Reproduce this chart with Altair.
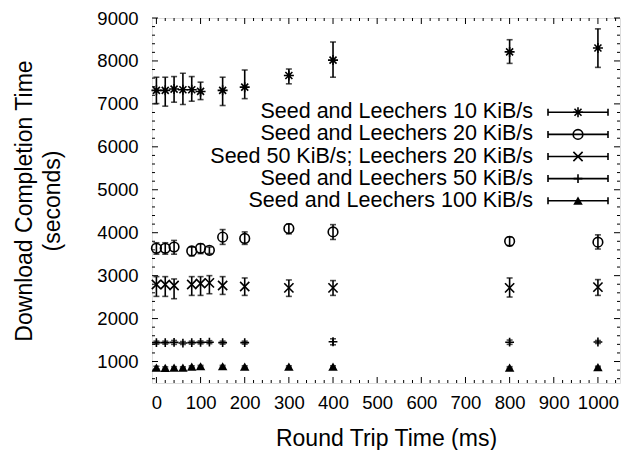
import altair as alt
import pandas as pd

# ---------------- data ----------------
series_names = [
    "Seed and Leechers 10 KiB/s",
    "Seed and Leechers 20 KiB/s",
    "Seed 50 KiB/s; Leechers 20 KiB/s",
    "Seed and Leechers 50 KiB/s",
    "Seed and Leechers 100 KiB/s",
]

x_10 = [0, 20, 40, 60, 80, 100, 150, 200, 300, 400, 800, 1000]
y_10 = [7315, 7315, 7345, 7330, 7330, 7290, 7315, 7390, 7660, 8020, 8210, 8300]
lo_10 = [7007, 6947, 7039, 6985, 7062, 7100, 6962, 7122, 7467, 7621, 7943, 7850]
hi_10 = [7621, 7621, 7636, 7713, 7636, 7506, 7621, 7789, 7812, 8441, 8494, 8747]

x_20 = [0, 20, 40, 80, 100, 120, 150, 200, 300, 400, 800, 1000]
y_20 = [3636, 3636, 3667, 3575, 3636, 3590, 3897, 3866, 4096, 4019, 3800, 3780]
lo_20 = [3500, 3500, 3500, 3460, 3513, 3513, 3728, 3728, 3973, 3843, 3700, 3620]
hi_20 = [3766, 3766, 3820, 3667, 3743, 3667, 4073, 4019, 4203, 4188, 3900, 3950]

x_5020 = [0, 20, 40, 80, 100, 120, 150, 200, 300, 400, 800, 1000]
y_5020 = [2793, 2793, 2770, 2793, 2816, 2831, 2770, 2747, 2716, 2716, 2716, 2732]
lo_5020 = [2517, 2517, 2463, 2540, 2540, 2579, 2563, 2540, 2517, 2540, 2502, 2540]
hi_5020 = [2977, 2977, 2923, 2977, 2977, 3000, 2977, 2946, 2900, 2885, 2946, 2908]

x_50 = [0, 20, 40, 60, 80, 100, 120, 150, 200, 400, 800, 1000]
y_50 = [1440, 1440, 1445, 1430, 1440, 1445, 1450, 1440, 1440, 1460, 1450, 1455]
lo_50 = [1405, 1405, 1400, 1395, 1405, 1410, 1415, 1405, 1405, 1390, 1400, 1420]
hi_50 = [1475, 1475, 1490, 1465, 1475, 1480, 1485, 1475, 1475, 1530, 1500, 1490]

x_100 = [0, 20, 40, 60, 80, 100, 150, 200, 300, 400, 800, 1000]
y_100 = [860, 850, 860, 860, 880, 890, 890, 880, 880, 880, 860, 870]
lo_100 = [830, 825, 840, 840, 860, 870, 870, 860, 860, 860, 840, 850]
hi_100 = [890, 875, 880, 880, 900, 910, 910, 900, 900, 900, 880, 890]

x_major_ticks = [0, 100, 200, 300, 400, 500, 600, 700, 800, 900, 1000]
y_major_ticks = [1000, 2000, 3000, 4000, 5000, 6000, 7000, 8000, 9000]
x_minor_ticks = [v for v in range(0, 1041, 20) if v % 100 != 0]
y_minor_ticks = [v for v in range(600, 9000, 200) if v % 1000 != 0]

X_DOMAIN = [-10, 1050]
Y_DOMAIN = [500, 9000]

# ---------------- tables ----------------
rows = []
for name, xs, ys, los, his in [
    (series_names[0], x_10, y_10, lo_10, hi_10),
    (series_names[1], x_20, y_20, lo_20, hi_20),
    (series_names[2], x_5020, y_5020, lo_5020, hi_5020),
    (series_names[3], x_50, y_50, lo_50, hi_50),
    (series_names[4], x_100, y_100, lo_100, hi_100),
]:
    for x, y, lo, hi in zip(xs, ys, los, his):
        rows.append({"series": name, "rtt": x, "t": y, "lo": lo, "hi": hi})
df = pd.DataFrame(rows)

xt_major = pd.DataFrame({"v": x_major_ticks})
xt_minor = pd.DataFrame({"v": x_minor_ticks})
yt_major = pd.DataFrame({"v": y_major_ticks})
yt_minor = pd.DataFrame({"v": y_minor_ticks})
leg = pd.DataFrame({"series": series_names, "idx": list(range(len(series_names)))})

# ---------------- styling ----------------
W, H = 468, 365
TOP = 10
FONT = "Liberation Sans"
LW = 1.6

AST = "M-1,0L1,0M0,-1L0,1M-0.7,-0.7L0.7,0.7M-0.7,0.7L0.7,-0.7"
XSHAPE = "M-1,-1L1,1M-1,1L1,-1"
PLUS = "M-1,0L1,0M0,-1L0,1"

x_scale = alt.Scale(domain=X_DOMAIN, nice=False, zero=False)
y_scale = alt.Scale(domain=Y_DOMAIN, nice=False, zero=False)
shape_scale = alt.Scale(domain=series_names, range=[AST, "circle", XSHAPE, PLUS, "triangle-up"])
size_scale = alt.Scale(domain=series_names, range=[100, 70, 90, 110, 90])

x_axis = alt.Axis(
    values=x_major_ticks, format="d", title="Round Trip Time (ms)", tickSize=0, domain=False,
    grid=False, labelFontSize=18.5, labelPadding=10, labelOverlap=False, labelFlush=False,
    labelBound=False, titleFontSize=23, titlePadding=16, titleFontWeight="normal",
)
y_axis = alt.Axis(
    values=y_major_ticks, format="d", title=["Download Completion Time", "(seconds)"], tickSize=0,
    domain=False, grid=False, labelFontSize=18.5, labelPadding=14, labelOverlap=False,
    titleFontSize=23, titlePadding=32, titleFontWeight="normal", titleLineHeight=28,
)


def X(field):
    return alt.X(field, scale=x_scale, axis=x_axis)


def Y(field):
    return alt.Y(field, scale=y_scale, axis=y_axis)


base = alt.Chart(df)

err = base.mark_rule(color="black", strokeWidth=LW).encode(
    x=X("rtt:Q"), y=Y("lo:Q"), y2="hi:Q"
)

caps = base.transform_fold(["lo", "hi"], as_=["end", "val"]).mark_tick(
    orient="horizontal", color="black", thickness=LW, size=6
).encode(x=X("rtt:Q"), y=Y("val:Q"))

open_pts = base.transform_filter(
    alt.datum.series != series_names[4]
).mark_point(filled=False, color="black", strokeWidth=LW, opacity=1).encode(
    x=X("rtt:Q"), y=Y("t:Q"),
    shape=alt.Shape("series:N", scale=shape_scale, legend=None),
    size=alt.Size("series:N", scale=size_scale, legend=None),
)

tri_pts = base.transform_filter(
    alt.datum.series == series_names[4]
).mark_point(filled=True, shape="triangle-up", size=90, color="black", opacity=1).encode(
    x=X("rtt:Q"), y=Y("t:Q")
)


# inward ticks on all four sides
def xticks(data, y0, y1):
    return alt.Chart(data).mark_rule(color="black", strokeWidth=1).encode(
        x=X("v:Q"), y=alt.value(y0), y2=alt.value(y1))


def yticks(data, x0, x1):
    return alt.Chart(data).mark_rule(color="black", strokeWidth=1).encode(
        y=Y("v:Q"), x=alt.value(x0), x2=alt.value(x1))


tick_layers = [
    xticks(xt_major, H, H - 6), xticks(xt_minor, H, H - 3),
    xticks(xt_major, 0, 6), xticks(xt_minor, 0, 3),
    yticks(yt_major, 0, 6), yticks(yt_minor, 0, 3),
    yticks(yt_major, W, W - 6), yticks(yt_minor, W, W - 3),
]

# legend (drawn inside the plot, gnuplot style); row positions converted to data units
span = Y_DOMAIN[1] - Y_DOMAIN[0]
lg = alt.Chart(leg).transform_calculate(
    py=f"{Y_DOMAIN[1]} - (94.3 + datum.idx * 22.1) * {span} / {H}"
).transform_calculate(
    pa=f"datum.py + 3.5 * {span} / {H}", pb=f"datum.py - 3.5 * {span} / {H}"
)
leg_text = lg.mark_text(align="right", baseline="middle", fontSize=21.5, font=FONT, color="black").encode(
    x=alt.value(381), y=Y("py:Q"), text="series:N")
leg_line = lg.mark_rule(color="black", strokeWidth=LW).encode(
    x=alt.value(396), x2=alt.value(456), y=Y("py:Q"))
leg_capl = lg.mark_rule(color="black", strokeWidth=LW).encode(
    x=alt.value(396), y=Y("pa:Q"), y2="pb:Q")
leg_capr = lg.mark_rule(color="black", strokeWidth=LW).encode(
    x=alt.value(456), y=Y("pa:Q"), y2="pb:Q")
leg_open = lg.transform_filter(alt.datum.series != series_names[4]).mark_point(
    filled=False, color="black", strokeWidth=LW, opacity=1).encode(
    x=alt.value(426), y=Y("py:Q"),
    shape=alt.Shape("series:N", scale=shape_scale, legend=None),
    size=alt.Size("series:N", scale=size_scale, legend=None))
leg_tri = lg.transform_filter(alt.datum.series == series_names[4]).mark_point(
    filled=True, shape="triangle-up", size=90, color="black", opacity=1).encode(
    x=alt.value(426), y=Y("py:Q"))

chart = alt.layer(
    err, caps, open_pts, tri_pts, *tick_layers,
    leg_text, leg_line, leg_capl, leg_capr, leg_open, leg_tri,
).properties(
    width=W, height=H,
    padding={"left": 144, "top": TOP, "right": 3, "bottom": 67},
    autosize=alt.AutoSizeParams(type="none"),
).configure_view(
    stroke="black", strokeWidth=1.5
).configure_axis(
    labelFont=FONT, titleFont=FONT, labelColor="black", titleColor="black"
).configure(background="white")

chart.save("out.html", embed_options={"renderer": "svg", "actions": False})
